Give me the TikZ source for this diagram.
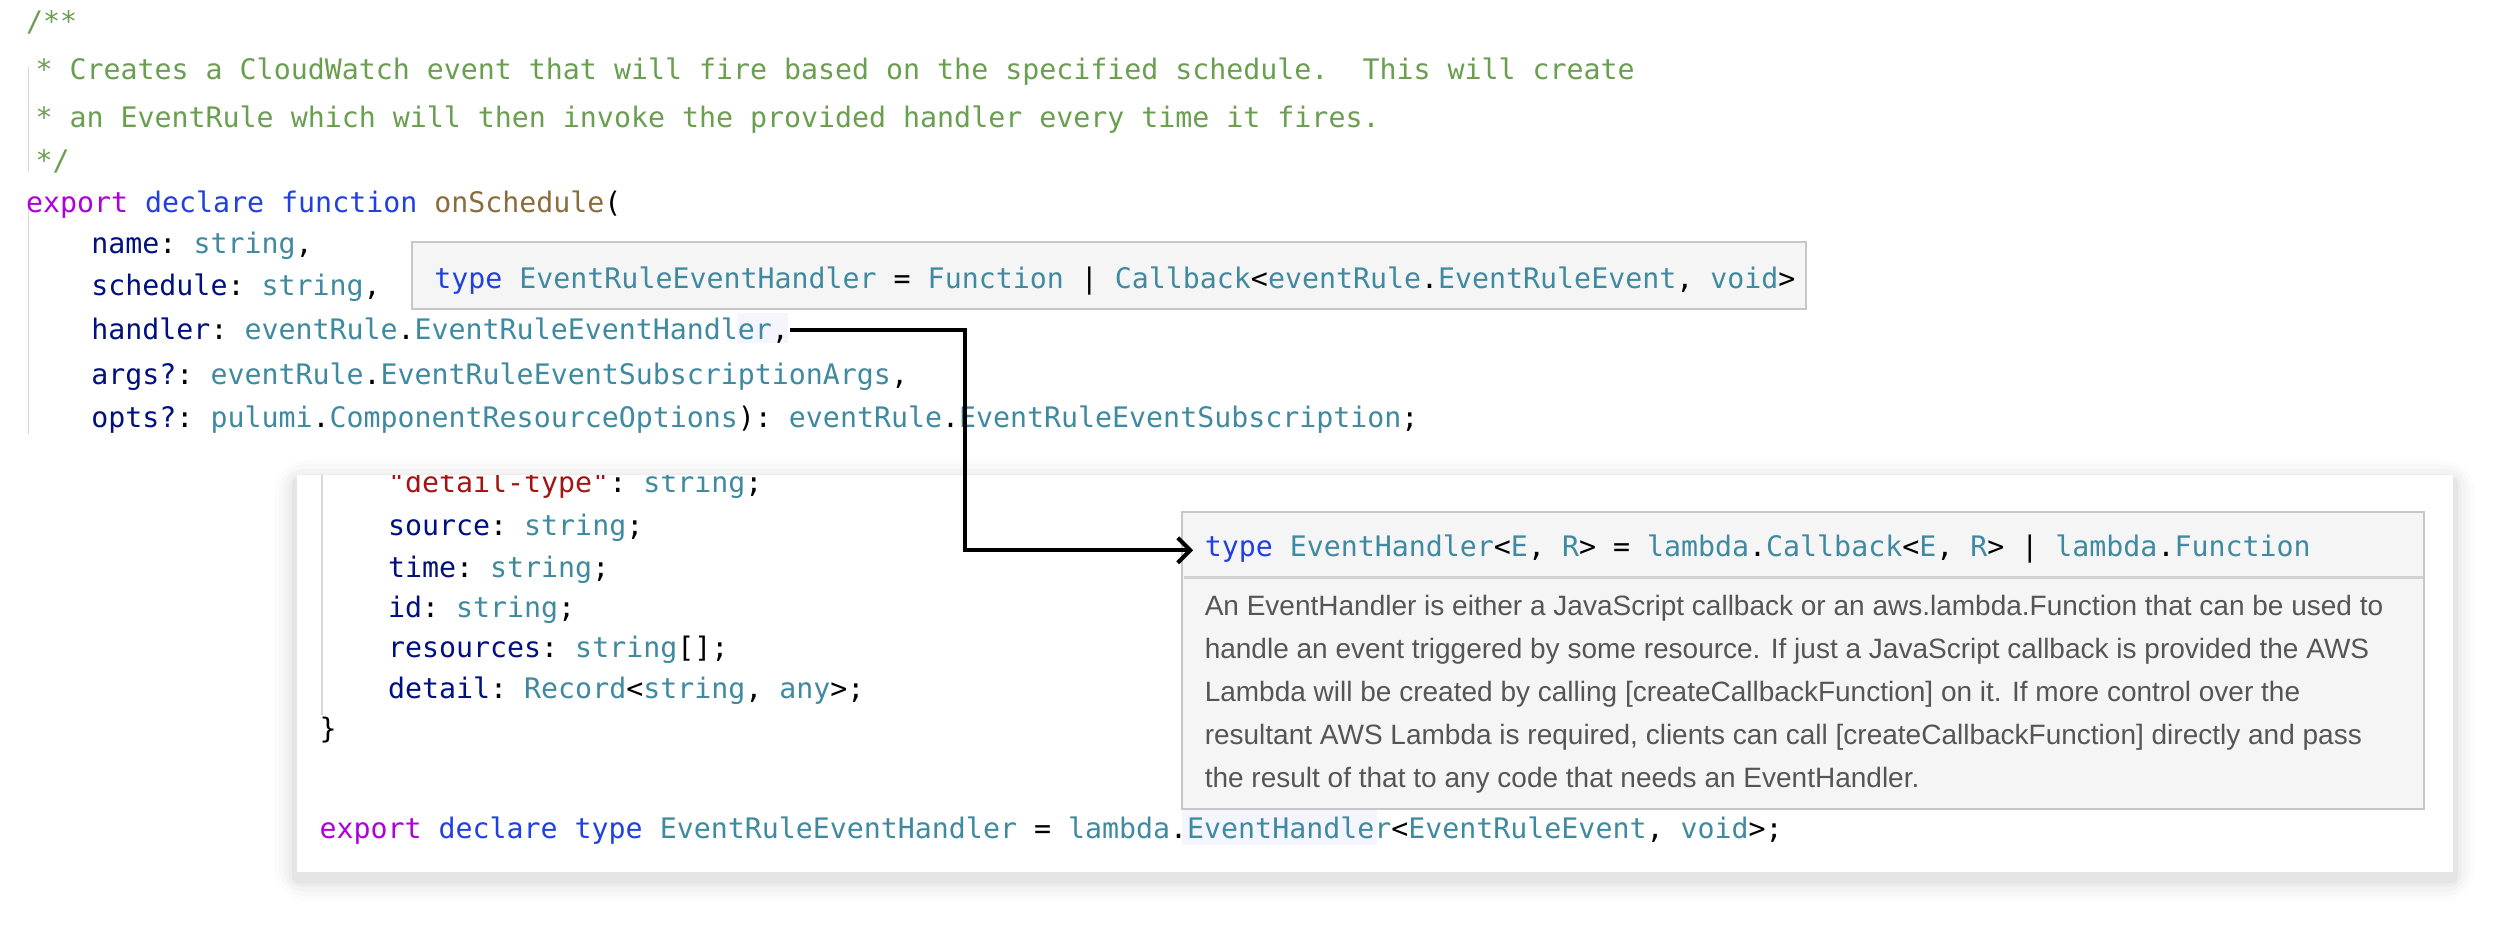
\documentclass[tikz,border=0pt]{standalone}
\usepackage{fontspec}
\usetikzlibrary{arrows.meta}
\setmainfont{Liberation Sans}
\setmonofont{DejaVu Sans Mono}
\definecolor{cmt}{HTML}{6A9F50}
\definecolor{ckw}{HTML}{AF00DB}
\definecolor{cbl}{HTML}{2040E0}
\definecolor{cfn}{HTML}{8A6D3B}
\definecolor{cpr}{HTML}{001080}
\definecolor{cty}{HTML}{3F8AA0}
\definecolor{cst}{HTML}{A31515}
\definecolor{cdoc}{HTML}{555555}
\newcommand{\Kw}[1]{\textcolor{ckw}{#1}}
\newcommand{\Bl}[1]{\textcolor{cbl}{#1}}
\newcommand{\Fn}[1]{\textcolor{cfn}{#1}}
\newcommand{\Pa}[1]{\textcolor{cpr}{#1}}
\newcommand{\Ty}[1]{\textcolor{cty}{#1}}
\newcommand{\St}[1]{\textcolor{cst}{#1}}
\begin{document}
\begin{tikzpicture}[x=0.6378pt,y=-0.6378pt,
  code/.style={anchor=base west,inner sep=0pt,font=\ttfamily\fontsize{11.3}{13}\selectfont},
  doc/.style={anchor=base west,inner sep=0pt,font=\fontsize{11.2}{13}\selectfont,text=cdoc},
  guide/.style={draw=black!15,line width=0.6pt},
  tip/.style={draw=black!22,fill=black!4,line width=0.8pt}]
\useasboundingbox (0,0) rectangle (1568,590);
\fill[white] (0,0) rectangle (1568,590);
% top code
\draw[guide] (18,42) -- (18,108);
\draw[guide] (18,124) -- (18,272);
\fill[blue!4] (462,196) rectangle (494,215);
\node[code] (c1) at (16,20) {\textcolor{cmt}{/**}};
\node[code] (c2) at (22,50) {\textcolor{cmt}{* Creates a CloudWatch event that will fire based on the specified schedule.\ \ This will create}};
\node[code] (c3) at (22,80) {\textcolor{cmt}{* an EventRule which will then invoke the provided handler every time it fires.}};
\node[code] (c4) at (22,107) {\textcolor{cmt}{*/}};
\node[code] (c5) at (16,133) {\Kw{export} \Bl{declare} \Bl{function} \Fn{onSchedule}(};
\node[code] (c6) at (57,159) {\Pa{name}: \Ty{string},};
\node[code] (c7) at (57,185) {\Pa{schedule}: \Ty{string},};
\node[code] (c8) at (57,213) {\Pa{handler}: \Ty{eventRule}.\Ty{EventRuleEventHandler}\rlap{,}};
\coordinate (hend) at (495,207);
\node[code] (c9) at (57,241) {\Pa{args?}: \Ty{eventRule}.\Ty{EventRuleEventSubscriptionArgs},};
\node[code] (c10) at (57,268) {\Pa{opts?}: \Ty{pulumi}.\Ty{ComponentResourceOptions}): \Ty{eventRule}.\Ty{EventRuleEventSubscription};};
% tooltip 1
\draw[tip] (258,152) rectangle (1132,194);
\node[code] (t1) at (272,181) {\Bl{type} \Ty{EventRuleEventHandler} = \Ty{Function} | \Ty{Callback}<\Ty{eventRule}.\Ty{EventRuleEvent}, \Ty{void}>};
% lower panel with shadow
\foreach \i/\o in {14/0.012,11/0.016,8/0.02,5/0.025,3/0.03}{
  \fill[black,opacity=\o,rounded corners=\i] (186-\i,298-\i+4) rectangle (1538+\i,547+\i+4);}
\fill[white] (186,298) rectangle (1538,547);
\begin{scope}
\clip (186,298) rectangle (1538,547);
\draw[guide] (202,298) -- (202,448);
\node[code] (d0) at (243,309) {\St{"detail-type"}: \Ty{string};};
\end{scope}
\node[code] (d1) at (243,336) {\Pa{source}: \Ty{string};};
\node[code] (d2) at (243,362) {\Pa{time}: \Ty{string};};
\node[code] (d3) at (243,387) {\Pa{id}: \Ty{string};};
\node[code] (d4) at (243,412) {\Pa{resources}: \Ty{string}[];};
\node[code] (d5) at (243,438) {\Pa{detail}: \Ty{Record}<\Ty{string}, \Ty{any}>;};
\node[code] (d6) at (200,463) {\}};
\fill[blue!4] (741,507) rectangle (863,530);
\node[code] (d7) at (200,526) {\Kw{export} \Bl{declare} \Bl{type} \Ty{EventRuleEventHandler} = \Ty{lambda}.\Ty{EventHandler}<\Ty{EventRuleEvent}, \Ty{void}>;};
% tooltip 2
\draw[tip] (741,321) rectangle (1520,507);
\draw[black!18,line width=1pt] (742,362) -- (1519,362);
\node[code] (h2) at (755,349) {\Bl{type} \Ty{EventHandler}<\Ty{E}, \Ty{R}> = \Ty{lambda}.\Ty{Callback}<\Ty{E}, \Ty{R}> | \Ty{lambda}.\Ty{Function}};
\node[doc] (p1) at (755,386) {An EventHandler is either a JavaScript callback or an aws.lambda.Function that can be used to};
\node[doc] (p2) at (755,413) {handle an event triggered by some resource. If just a JavaScript callback is provided the AWS};
\node[doc] (p3) at (755,440) {Lambda will be created by calling [createCallbackFunction] on it. If more control over the};
\node[doc] (p4) at (755,467) {resultant AWS Lambda is required, clients can call [createCallbackFunction] directly and pass};
\node[doc] (p5) at (755,494) {the result of that to any code that needs an EventHandler.};
% arrow
\coordinate (aend) at (748,345);
\draw[line width=1.6pt,-{Straight Barb[length=5pt,width=10pt]}] (hend) -- (605,207) -- (605,345) -- (aend);
\end{tikzpicture}
\end{document}
